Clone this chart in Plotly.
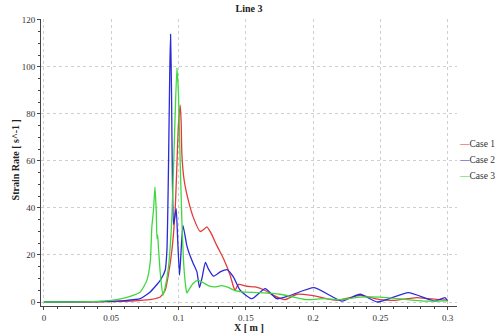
import plotly.graph_objects as go

series_names = ["Case 1", "Case 2", "Case 3"]
series_colors = ["#e23b3b", "#2a2ad8", "#3ed83e"]

case1_x = [0.0, 0.04, 0.06, 0.07, 0.08, 0.0864, 0.0901, 0.0926, 0.0951, 0.0975, 0.0988, 0.1, 0.1013,
           0.102, 0.1025, 0.1042, 0.1074, 0.111, 0.1161, 0.119, 0.1211, 0.124, 0.1285, 0.1334, 0.1384,
           0.1409, 0.142, 0.1446, 0.1508, 0.157, 0.164, 0.1706, 0.179, 0.188, 0.199, 0.2177, 0.235,
           0.25, 0.26, 0.277, 0.2944, 0.3]
case1_y = [0.0, 0.1, 0.3, 0.6, 1.1, 2.1, 5.0, 12.0, 22.0, 39.0, 58.0, 76.0, 83.7,
           76.0, 63.0, 51.8, 43.0, 36.0, 30.0, 31.0, 32.0, 29.5, 24.0, 18.5, 11.4,
           6.4, 5.0, 7.5, 6.7, 6.4, 5.0, 2.8, 1.0, 3.3, 2.8, 0.7, 2.8,
           1.0, 0.7, 1.9, 1.0, 0.8]

case2_x = [0.0, 0.04, 0.06, 0.0716, 0.079, 0.0864, 0.0901, 0.0914, 0.0925, 0.0935, 0.0941, 0.0948,
           0.0955, 0.0963, 0.0975, 0.0983, 0.0995, 0.1008, 0.1033, 0.1062, 0.108, 0.111, 0.1137,
           0.1156, 0.1174, 0.12, 0.1223, 0.126, 0.131, 0.136, 0.1409, 0.1458, 0.1545, 0.1644,
           0.173, 0.183, 0.2008, 0.2214, 0.235, 0.2479, 0.2709, 0.2907, 0.298, 0.3]
case2_y = [0.0, 0.2, 0.6, 1.4, 4.3, 9.2, 13.5, 22.0, 55.0, 98.0, 113.9, 90.0,
           50.0, 33.0, 37.0, 39.7, 25.0, 11.4, 32.6, 24.0, 20.6, 16.3, 12.8,
           6.1, 10.0, 16.8, 14.0, 11.0, 12.8, 13.8, 10.6, 5.0, 1.4, 5.7,
           1.4, 2.8, 6.1, 0.4, 3.3, 0.0, 4.0, 0.4, 1.9, 0.5]

case3_x = [0.0, 0.04, 0.05, 0.064, 0.0716, 0.0765, 0.079, 0.0802, 0.0814, 0.0825, 0.0835, 0.084,
           0.0845, 0.085, 0.0865, 0.0884, 0.09, 0.0926, 0.095, 0.097, 0.0988, 0.1, 0.101, 0.1025,
           0.104, 0.1055, 0.1062, 0.108, 0.111, 0.1144, 0.118, 0.122, 0.127, 0.132, 0.137, 0.142,
           0.147, 0.1607, 0.1756, 0.1954, 0.2077, 0.22, 0.235, 0.25, 0.27, 0.282, 0.3]
case3_y = [0.0, 0.3, 0.7, 2.4, 4.3, 9.2, 17.0, 32.0, 39.0, 49.0, 38.0, 27.0,
           28.5, 24.0, 12.0, 2.8, 6.0, 15.0, 35.0, 70.0, 99.6, 88.0, 65.0, 35.0,
           15.0, 6.0, 3.8, 5.5, 8.0, 9.2, 8.4, 7.0, 6.4, 7.0, 6.2, 4.8,
           4.3, 4.0, 3.3, 1.0, 1.4, 1.0, 2.1, 2.1, 1.0, 0.4, 0.5]

x_ticks = [0, 0.05, 0.1, 0.15, 0.2, 0.25, 0.3]
x_labels = ["0", "0.05", "0.1", "0.15", "0.2", "0.25", "0.3"]
y_ticks = [0, 20, 40, 60, 80, 100, 120]

x_title = "X [ m ]"
y_title = "Strain Rate [ s^-1 ]"
chart_title = "Line 3"

xs = [case1_x, case2_x, case3_x]
ys = [case1_y, case2_y, case3_y]

FONT = "Liberation Serif"

fig = go.Figure()
for name, color, x, y in zip(series_names, series_colors, xs, ys):
    fig.add_trace(go.Scatter(x=x, y=y, mode="lines", name=name,
                             line=dict(color=color, width=1.3, shape="spline", smoothing=0.5),
                             showlegend=False))

legend_y = [0.564, 0.508, 0.452]
for name, color, ly in zip(series_names, series_colors, legend_y):
    fig.add_annotation(xref="paper", yref="paper", x=1.002, y=ly, xanchor="left", yanchor="middle",
                       showarrow=False, borderpad=0,
                       text=f"<span style='color:{color}'>\u2014</span>{name}",
                       font=dict(family=FONT, size=9.5, color="#333333"))

fig.add_annotation(xref="paper", yref="paper", x=0.5, y=-0.076, xanchor="center", yanchor="middle",
                   showarrow=False, borderpad=0, text=f"<b>{x_title}</b>",
                   font=dict(family=FONT, size=10, color="#222222"))
fig.add_annotation(xref="paper", yref="paper", x=-0.062, y=0.508, xanchor="center", yanchor="middle",
                   showarrow=False, textangle=-90, text=f"<b>{y_title}</b>",
                   font=dict(family=FONT, size=10, color="#222222"))

axis_common = dict(
    showline=True, linecolor="#444444", linewidth=1,
    ticks="outside", ticklen=3, tickcolor="#444444",
    showgrid=True, gridcolor="#cfcfcf", griddash="dot", gridwidth=1,
    zeroline=False, automargin=False,
    tickfont=dict(family=FONT, size=9, color="#333333"),
)

fig.update_layout(
    width=496, height=333,
    margin=dict(l=41, r=39, t=19, b=27),
    paper_bgcolor="white", plot_bgcolor="white",
    title=dict(text=f"<b>{chart_title}</b>", x=0.5, xref="paper", xanchor="center", y=0.985, yanchor="top",
               font=dict(family=FONT, size=10, color="#222222")),
    xaxis=dict(range=[-0.0022, 0.307], tickvals=x_ticks, ticktext=x_labels,
               minor=dict(dtick=0.01, tick0=0, ticks="outside", ticklen=2, tickcolor="#444444", showgrid=False),
               **axis_common),
    yaxis=dict(range=[-1.7, 120.4], tickvals=y_ticks,
               minor=dict(dtick=5, tick0=0, ticks="outside", ticklen=2, tickcolor="#444444", showgrid=False),
               **axis_common),
    showlegend=False,
)

fig.write_html("out.html", config={"displayModeBar": False},
               post_script="document.body.style.margin='0';document.body.style.overflow='hidden';")
